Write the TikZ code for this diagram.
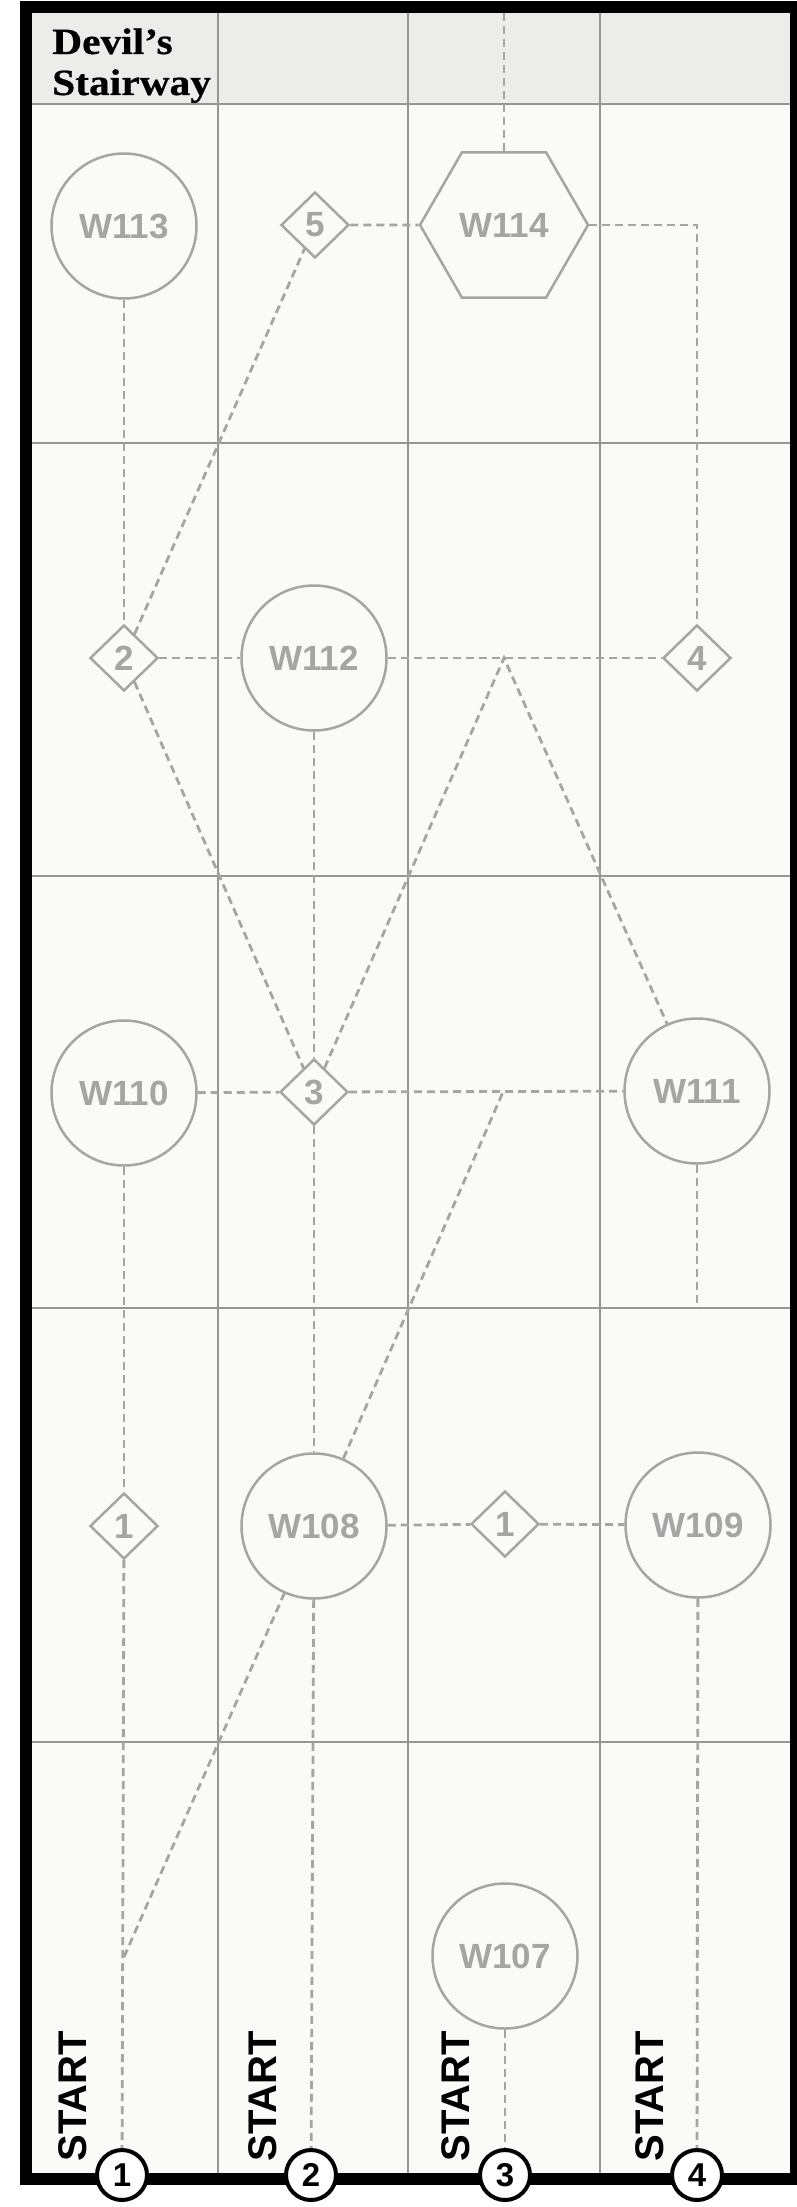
\documentclass[tikz,border=0pt]{standalone}
\usepackage{fontspec}
\setmainfont{Liberation Serif}
\setsansfont{Liberation Sans}
\newfontfamily\titlefont[FakeStretch=1.12,FakeBold=0.6]{Liberation Serif Bold}
\usetikzlibrary{shapes.geometric}
\definecolor{ink}{RGB}{165,165,165}
\definecolor{gridc}{RGB}{150,150,150}
\definecolor{paper}{RGB}{250,250,248}
\definecolor{strip}{RGB}{236,236,234}
\begin{document}
\begin{tikzpicture}[x=1pt,y=-1pt,
  lbl/.style={text=ink,font=\sffamily\bfseries\fontsize{35}{35}\selectfont},
  wnode/.style={circle,draw=ink,line width=2.5pt,fill=paper,minimum size=145pt,inner sep=0pt,lbl},
  dnode/.style={diamond,draw=ink,line width=2.5pt,fill=paper,minimum width=68pt,minimum height=66pt,inner sep=0pt,lbl},
  hnode/.style={regular polygon,regular polygon sides=6,draw=ink,line width=2.5pt,fill=paper,minimum size=168pt,inner sep=0pt,lbl},
  snode/.style={circle,draw=black,line width=4pt,fill=white,minimum size=50pt,inner sep=0pt,font=\sffamily\bfseries\fontsize{33}{33}\selectfont},
  stext/.style={rotate=90,inner sep=0pt,font=\sffamily\bfseries\fontsize{40}{40}\selectfont},
  ttext/.style={anchor=base west,inner sep=0pt,font=\titlefont\fontsize{37}{41}\selectfont},
  conn/.style={draw=ink,line width=2.8pt,dash pattern=on 8pt off 5pt},
  gridl/.style={draw=gridc,line width=1.4pt}]
\useasboundingbox (0,0) rectangle (797,2207);
\fill[white] (0,0) rectangle (797,2207);
\fill[paper] (26,7) rectangle (796,2179);
\fill[strip] (32,13) rectangle (790,104);
% grid
\foreach \x in {218,408,600} \draw[gridl] (\x,13) -- (\x,2173);
\foreach \y in {104,443,876,1308,1742} \draw[gridl] (32,\y) -- (790,\y);
% title
\node[ttext] (title1) at (52,54) {Devil’s};
\node[ttext] (title2) at (52,95) {Stairway};
% coordinates
\coordinate (topc) at (504,13);
\coordinate (apex) at (504,658);
\coordinate (j1) at (503,1092);
\coordinate (b1) at (124,1957);
\coordinate (w111e) at (697,1308);
% nodes
\node[wnode] (w113) at (124,226) {W113};
\node[dnode] (d5) at (315,225) {5};
\node[hnode] (w114) at (504,225) {W114};
\node[dnode] (d2) at (124,658) {2};
\node[wnode] (w112) at (314,658) {W112};
\node[dnode] (d4) at (697,658) {4};
\node[wnode] (w110) at (124,1093) {W110};
\node[dnode] (d3) at (314,1092) {3};
\node[wnode] (w111) at (697,1091) {W111};
\node[dnode] (d1a) at (124,1526) {1};
\node[wnode] (w108) at (314,1526) {W108};
\node[dnode] (d1b) at (505,1524) {1};
\node[wnode] (w109) at (698,1525) {W109};
\node[wnode] (w107) at (505,1956) {W107};
% connectors
\draw[conn] (topc) -- (w114);
\draw[conn] (d5) -- (w114);
\draw[conn] (w114) -| (d4);
\draw[conn] (w113) -- (d2);
\draw[conn] (d2) -- (d5);
\draw[conn] (d2) -- (w112);
\draw[conn] (w112) -- (d4);
\draw[conn] (d3) -- (apex) -- (w111);
\draw[conn] (d2) -- (d3);
\draw[conn] (w112) -- (d3);
\draw[conn] (w110) -- (d3);
\draw[conn] (d3) -- (w111);
\draw[conn] (w111) -- (w111e);
\draw[conn] (w110) -- (d1a);
\draw[conn] (b1) -- (w108);
\draw[conn] (w108) -- (j1);
\draw[conn] (d3) -- (w108);
\draw[conn] (w108) -- (d1b);
\draw[conn] (d1b) -- (w109);
% frame
\draw[line width=12pt] (26,7) rectangle (796,2179);
% start circles
\node[snode] (s1) at (122,2175) {1};
\node[snode] (s2) at (311,2175) {2};
\node[snode] (s3) at (505,2175) {3};
\node[snode] (s4) at (697,2175) {4};
\draw[conn] (d1a) -- (s1);
\draw[conn] (w108) -- (s2);
\draw[conn] (w107) -- (s3);
\draw[conn] (w109) -- (s4);
\node[stext] (st1) at (73,2096) {START};
\node[stext] (st2) at (263,2096) {START};
\node[stext] (st3) at (456,2096) {START};
\node[stext] (st4) at (650,2096) {START};
\end{tikzpicture}
\end{document}
